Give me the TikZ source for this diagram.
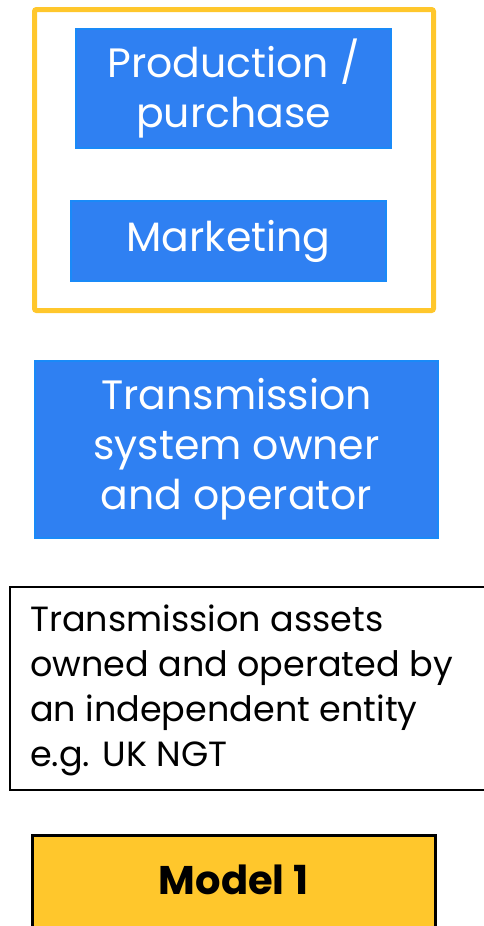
\documentclass[tikz,border=0pt]{standalone}
\usepackage{fontspec}
\setmainfont{Poppins}
\usepackage{tikz}

\definecolor{boxblue}{HTML}{2F80F2}
\definecolor{edgeblue}{HTML}{1A8AF8}
\definecolor{modelgold}{HTML}{FFC72C}

\tikzset{
  rolebox/.style={draw=edgeblue, line width=1.5pt, fill=boxblue, text=white, align=center,
    inner sep=0pt, font=\fontsize{41}{50}\selectfont},
  groupbox/.style={draw=modelgold, line width=5pt, rounded corners=2pt, inner sep=0pt},
  notebox/.style={draw=black, line width=2pt, fill=white, inner sep=0pt},
  modelbox/.style={draw=black, line width=3pt, fill=modelgold, inner sep=0pt}
}

\begin{document}
\begin{tikzpicture}[x=1pt, y=1pt]
        \useasboundingbox (0,0) rectangle (483,-926);

        % yellow frame round the first two roles
        \node [groupbox, minimum width=399pt, minimum height=301pt] (group) at (234,-160) {};

        \node [rolebox, minimum width=315pt, minimum height=119pt] (prod) at (233.5,-88.5) {Production /\\purchase};
        \node [rolebox, minimum width=315pt, minimum height=80pt] (mkt) at (228.5,-241) {Marketing};

        \node [rolebox, minimum width=403pt, minimum height=177pt] (tso) at (236.5,-449.5) {Transmission\\system owner\\and operator};

        % note box runs off the right edge
        \node [notebox, minimum width=490pt, minimum height=203pt] (note) at (255,-688.5) {};
        \node [anchor=north west, align=left, inner sep=0pt, font=\fontsize{35}{45}\selectfont] (notetext) at (30,-605)
          {Transmission assets\\owned and operated by\\an independent entity\\e.g. UK NGT};

        \node [modelbox, minimum width=403pt, minimum height=100pt] (model) at (233.5,-885) {};
        \node [font=\fontsize{40}{50}\selectfont\bfseries, inner sep=0pt] (modeltext) at (233.5,-880) {Model 1};
    \end{tikzpicture}
\end{document}
